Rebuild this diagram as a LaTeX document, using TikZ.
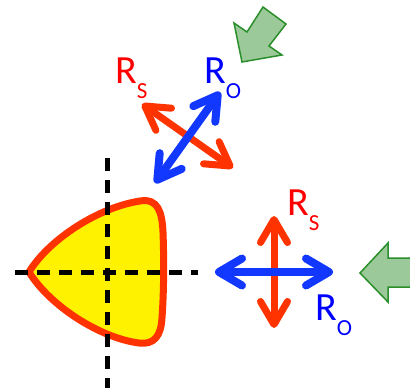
\documentclass[tikz,border=0pt]{standalone}
\usepackage{fontspec}
\setmainfont{Carlito}
\usetikzlibrary{arrows.meta}

\definecolor{rouge}{HTML}{FF3300}
\definecolor{bleu}{HTML}{1238FF}
\definecolor{vertclair}{HTML}{9CC99A}
\definecolor{vertfonce}{HTML}{2A8F2A}

\newcommand{\Rsub}[1]{R\raisebox{-15pt}{\fontsize{23}{23}\selectfont #1}}

\begin{document}
\begin{tikzpicture}[x=1pt,y=-1pt,
  fleche/.style={line width=7pt,line cap=round,{Straight Barb[length=23pt,width=27pt,line width=0pt 1,round]}-{Straight Barb[length=23pt,width=27pt,line width=0pt 1,round]}},
  lbl/.style={inner sep=0pt,anchor=base west,font=\fontsize{40}{40}\selectfont},
  axe/.style={black,line width=5pt,dash pattern=on 13pt off 9pt},
  bloc/.style={fill=vertclair,draw=vertfonce,line width=1.5pt,line join=miter}]

\useasboundingbox (0,0) rectangle (410,388);
\clip (0,0) rectangle (410,388);

\filldraw[fill=yellow,draw=rouge,line width=7pt,line join=round]
  (29,272) .. controls (50,238) and (100,207) .. (140,201)
  .. controls (158,198) and (162,212) .. (163,232)
  .. controls (164,258) and (164,290) .. (162,318)
  .. controls (161,336) and (154,345) .. (139,343)
  .. controls (100,338) and (50,306) .. (29,272) -- cycle;

\draw[axe] (15,272) -- (198,272);
\draw[axe] (107,158) -- (107,392);

\coordinate (hs1) at (142,104);
\coordinate (hs2) at (233,168);
\coordinate (ho1) at (155,183);
\coordinate (ho2) at (220,92);
\draw[fleche,rouge] (hs1) -- (hs2);
\draw[fleche,bleu,line width=8pt] (ho1) -- (ho2);

\coordinate (ds1) at (274,216);
\coordinate (ds2) at (274,328);
\coordinate (do1) at (215,272);
\coordinate (do2) at (333,272);
\draw[fleche,rouge] (ds1) -- (ds2);
\draw[fleche,bleu,line width=8pt] (do1) -- (do2);

\node[lbl,red] (hautS) at (115,83) {\Rsub{S}};
\node[lbl,blue] (hautO) at (204,83) {\Rsub{O}};
\node[lbl,red] (droitS) at (287,215) {\Rsub{S}};
\node[lbl,blue] (droitO) at (315,320) {\Rsub{O}};

\draw[bloc] (234,23) -- (247,32) -- (263,7) -- (286,24) -- (269,46) -- (282,55) -- (242,62) -- cycle;
\draw[bloc] (360,273) -- (388,243) -- (388,258) -- (415,258) -- (415,287) -- (388,287) -- (388,302) -- cycle;

\end{tikzpicture}
\end{document}
